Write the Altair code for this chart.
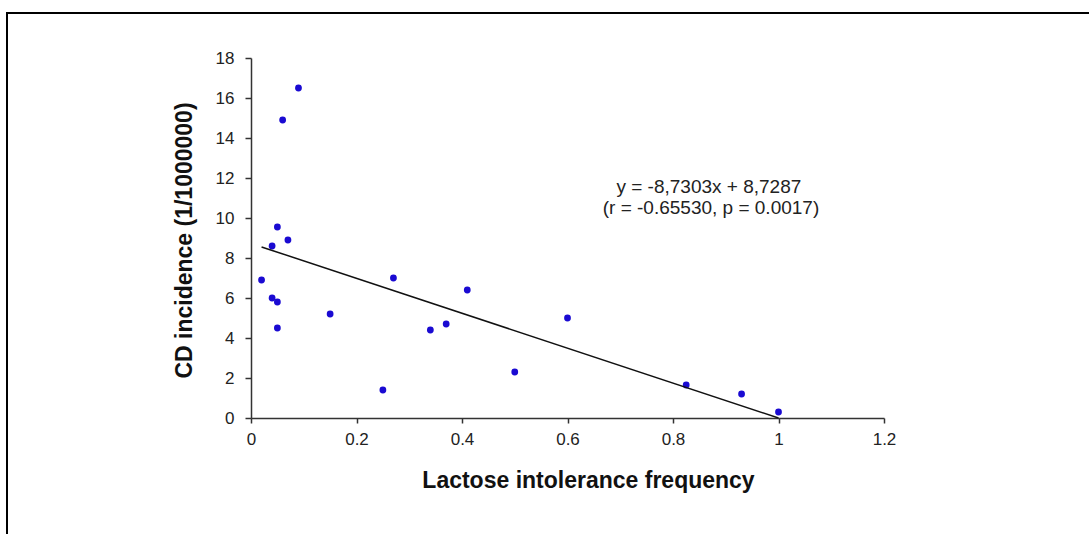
import altair as alt
import pandas as pd

# ---- data ----
lactose_freq = [0.02, 0.04, 0.04, 0.05, 0.05, 0.05, 0.06, 0.07, 0.09, 0.15,
                0.25, 0.27, 0.34, 0.37, 0.41, 0.50, 0.60, 0.825, 0.93, 1.00]
cd_incidence = [6.9, 8.6, 6.0, 9.55, 5.8, 4.5, 14.9, 8.9, 16.5, 5.2,
                1.4, 7.0, 4.4, 4.7, 6.4, 2.3, 5.0, 1.65, 1.2, 0.3]
slope = -8.7303
intercept = 8.7287
ann_lines = ["y = -8,7303x + 8,7287", "(r = -0.65530, p = 0.0017)"]
x_ticks = [0, 0.2, 0.4, 0.6, 0.8, 1, 1.2]
y_ticks = [0, 2, 4, 6, 8, 10, 12, 14, 16, 18]

pts = pd.DataFrame({"x": lactose_freq, "y": cd_incidence})
xs = [min(lactose_freq), max(lactose_freq)]
trend = pd.DataFrame({"x": xs, "y": [slope * v + intercept for v in xs]})
ann = pd.DataFrame({"t": ann_lines, "x": [0.868, 0.872], "y": [11.25, 10.2]})

FONT = "Liberation Sans"
W, H = 633, 360
PAD = {"left": 251, "top": 58, "right": 1089 - 251 - W, "bottom": 534 - 58 - H}

xs_scale = alt.Scale(domain=[0, 1.2], nice=False, zero=False)
ys_scale = alt.Scale(domain=[0, 18], nice=False)

x_axis = alt.Axis(
    values=x_ticks, format="~g", grid=False, labelOverlap=False, labelFlush=False,
    domainColor="#333", domainWidth=1.5, tickColor="#333", tickWidth=1.5,
    tickSize=5, labelFont=FONT, labelFontSize=17, labelColor="#222",
    labelPadding=8,
    title="Lactose intolerance frequency", titleFont=FONT, titleFontSize=23,
    titleFontWeight="bold", titleColor="#111", titleX=337, titleY=69,
    titleBaseline="alphabetic", titleAlign="center",
)
y_axis = alt.Axis(
    values=y_ticks, format="~g", grid=False, labelOverlap=False, labelFlush=False,
    domainColor="#333", domainWidth=1.5, tickColor="#333", tickWidth=1.5,
    tickSize=6, labelFont=FONT, labelFontSize=17, labelColor="#222",
    labelPadding=11,
    title="CD incidence (1/1000000)", titleFont=FONT, titleFontSize=23,
    titleFontWeight="bold", titleColor="#111", titleAngle=270,
    titleX=-60, titleY=182, titleBaseline="alphabetic", titleAlign="center",
)

X = alt.X("x:Q", scale=xs_scale, axis=x_axis)
Y = alt.Y("y:Q", scale=ys_scale, axis=y_axis)

points = alt.Chart(pts).mark_circle(size=46, color="#1a0ad2", opacity=1).encode(
    x=X, y=Y,
)

line = alt.Chart(trend).mark_line(color="#111", strokeWidth=1.5).encode(
    x=X, y=Y,
)

text = alt.Chart(ann).mark_text(
    font=FONT, fontSize=19, color="#222", align="center", baseline="alphabetic"
).encode(
    x=X, y=Y, text="t:N",
)

frame = alt.Chart(pd.DataFrame({"a": [0]})).mark_rect(
    filled=False, stroke="black", strokeWidth=2
).encode(
    x=alt.value(7 - PAD["left"]),
    y=alt.value(13 - PAD["top"]),
    x2=alt.value(1100 - PAD["left"]),
    y2=alt.value(545 - PAD["top"]),
)

chart = alt.layer(points, line, text, frame).properties(
    width=W, height=H,
    autosize=alt.AutoSizeParams(type="none"),
    padding=PAD,
    background="white",
).configure_view(stroke=None)

chart.save("out.html", embed_options={"renderer": "svg", "actions": False})
